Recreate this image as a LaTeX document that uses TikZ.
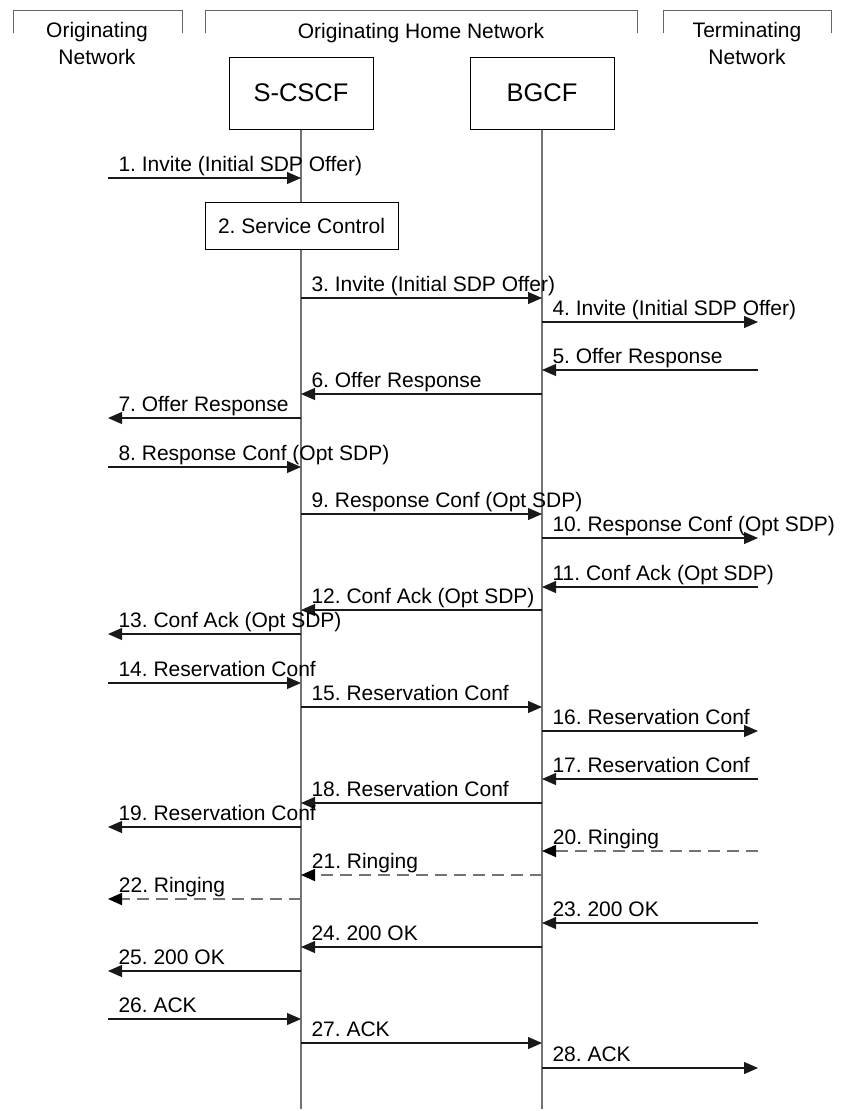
\documentclass[tikz,border=0pt]{standalone}
\usepackage{fontspec}
\setmainfont{Liberation Sans}
\usetikzlibrary{arrows.meta}
\frenchspacing

\begin{document}
\begin{tikzpicture}[x=1pt, y=-1pt,
  lane/.style={font=\fontsize{21}{27}\selectfont, align=center, inner sep=0pt},
  entity/.style={draw, line width=1pt, minimum width=144pt, minimum height=72pt,
                 font=\fontsize{25.5}{30}\selectfont},
  action/.style={draw, line width=1pt, fill=white, minimum width=193pt, minimum height=47pt,
                 font=\fontsize{21}{25}\selectfont},
  bracket/.style={draw=black!60, line width=1pt},
  lifeline/.style={draw=black!55, line width=1.2pt},
  msg/.style={-{Triangle[length=14pt, width=12pt]}, draw=black!90, line width=1.1pt},
  provisional/.style={-{Triangle[length=14pt, width=12pt, color=black]}, draw=black!55,
                      line width=1.8pt, dash pattern=on 12pt off 7pt},
  lbl/.style={anchor=base west, inner sep=0pt, xshift=10pt, yshift=7pt,
              font=\fontsize{21}{25}\selectfont},
]
\useasboundingbox (0,0) rectangle (842,1111);

% network headers
\draw[bracket] (13,33) -- (13,10) -- (182,10) -- (182,33);
\draw[bracket] (205,33) -- (205,10) -- (637,10) -- (637,33);
\draw[bracket] (663,33) -- (663,10) -- (831,10) -- (831,33);
\node[lane, anchor=north] (orignet) at (97,22.5) {Originating\\Network};
\node[lane, anchor=base] (homenet) at (421,38) {Originating Home Network};
\node[lane, anchor=north] (termnet) at (747,22.5) {Terminating\\Network};

% entities and lifelines
\node[entity] (scscf) at (301,93) {S-CSCF};
\node[entity] (bgcf) at (542,93) {BGCF};
\coordinate (orig) at (108,0);
\coordinate (term) at (758,0);
\coordinate (scend) at (301,1109);
\coordinate (bgend) at (542,1109);
\draw[lifeline] (scscf) -- (scend);
\draw[lifeline] (bgcf) -- (bgend);

% invite
\draw[msg] (orig |- 0,178) -- (scscf |- 0,178) node[lbl, at start] {1. Invite (Initial SDP Offer)};
\node[action] (svc) at (301.5,225.5) {2. Service Control};
\draw[msg] (scscf |- 0,298) -- (bgcf |- 0,298) node[lbl, at start] {3. Invite (Initial SDP Offer)};
\draw[msg] (bgcf |- 0,322) -- (term |- 0,322) node[lbl, at start] {4. Invite (Initial SDP Offer)};

% offer response
\draw[msg] (term |- 0,370) -- (bgcf |- 0,370) node[lbl, at end] {5. Offer Response};
\draw[msg] (bgcf |- 0,394) -- (scscf |- 0,394) node[lbl, at end] {6. Offer Response};
\draw[msg] (scscf |- 0,418) -- (orig |- 0,418) node[lbl, at end] {7. Offer Response};

% response conf
\draw[msg] (orig |- 0,467) -- (scscf |- 0,467) node[lbl, at start] {8. Response Conf (Opt SDP)};
\draw[msg] (scscf |- 0,514) -- (bgcf |- 0,514) node[lbl, at start] {9. Response Conf (Opt SDP)};
\draw[msg] (bgcf |- 0,538) -- (term |- 0,538) node[lbl, at start] {10. Response Conf (Opt SDP)};

% conf ack
\draw[msg] (term |- 0,587) -- (bgcf |- 0,587) node[lbl, at end] {11. Conf Ack (Opt SDP)};
\draw[msg] (bgcf |- 0,610) -- (scscf |- 0,610) node[lbl, at end] {12. Conf Ack (Opt SDP)};
\draw[msg] (scscf |- 0,634) -- (orig |- 0,634) node[lbl, at end] {13. Conf Ack (Opt SDP)};

% reservation conf
\draw[msg] (orig |- 0,683) -- (scscf |- 0,683) node[lbl, at start] {14. Reservation Conf};
\draw[msg] (scscf |- 0,707) -- (bgcf |- 0,707) node[lbl, at start] {15. Reservation Conf};
\draw[msg] (bgcf |- 0,731) -- (term |- 0,731) node[lbl, at start] {16. Reservation Conf};
\draw[msg] (term |- 0,779) -- (bgcf |- 0,779) node[lbl, at end] {17. Reservation Conf};
\draw[msg] (bgcf |- 0,803) -- (scscf |- 0,803) node[lbl, at end] {18. Reservation Conf};
\draw[msg] (scscf |- 0,827) -- (orig |- 0,827) node[lbl, at end] {19. Reservation Conf};

% ringing
\draw[provisional] (term |- 0,851) -- (bgcf |- 0,851) node[lbl, at end] {20. Ringing};
\draw[provisional] (bgcf |- 0,875) -- (scscf |- 0,875) node[lbl, at end] {21. Ringing};
\draw[provisional] (scscf |- 0,899) -- (orig |- 0,899) node[lbl, at end] {22. Ringing};

% 200 ok
\draw[msg] (term |- 0,923) -- (bgcf |- 0,923) node[lbl, at end] {23. 200 OK};
\draw[msg] (bgcf |- 0,947) -- (scscf |- 0,947) node[lbl, at end] {24. 200 OK};
\draw[msg] (scscf |- 0,971) -- (orig |- 0,971) node[lbl, at end] {25. 200 OK};

% ack
\draw[msg] (orig |- 0,1019) -- (scscf |- 0,1019) node[lbl, at start] {26. ACK};
\draw[msg] (scscf |- 0,1043) -- (bgcf |- 0,1043) node[lbl, at start] {27. ACK};
\draw[msg] (bgcf |- 0,1068) -- (term |- 0,1068) node[lbl, at start] {28. ACK};

\end{tikzpicture}
\end{document}
